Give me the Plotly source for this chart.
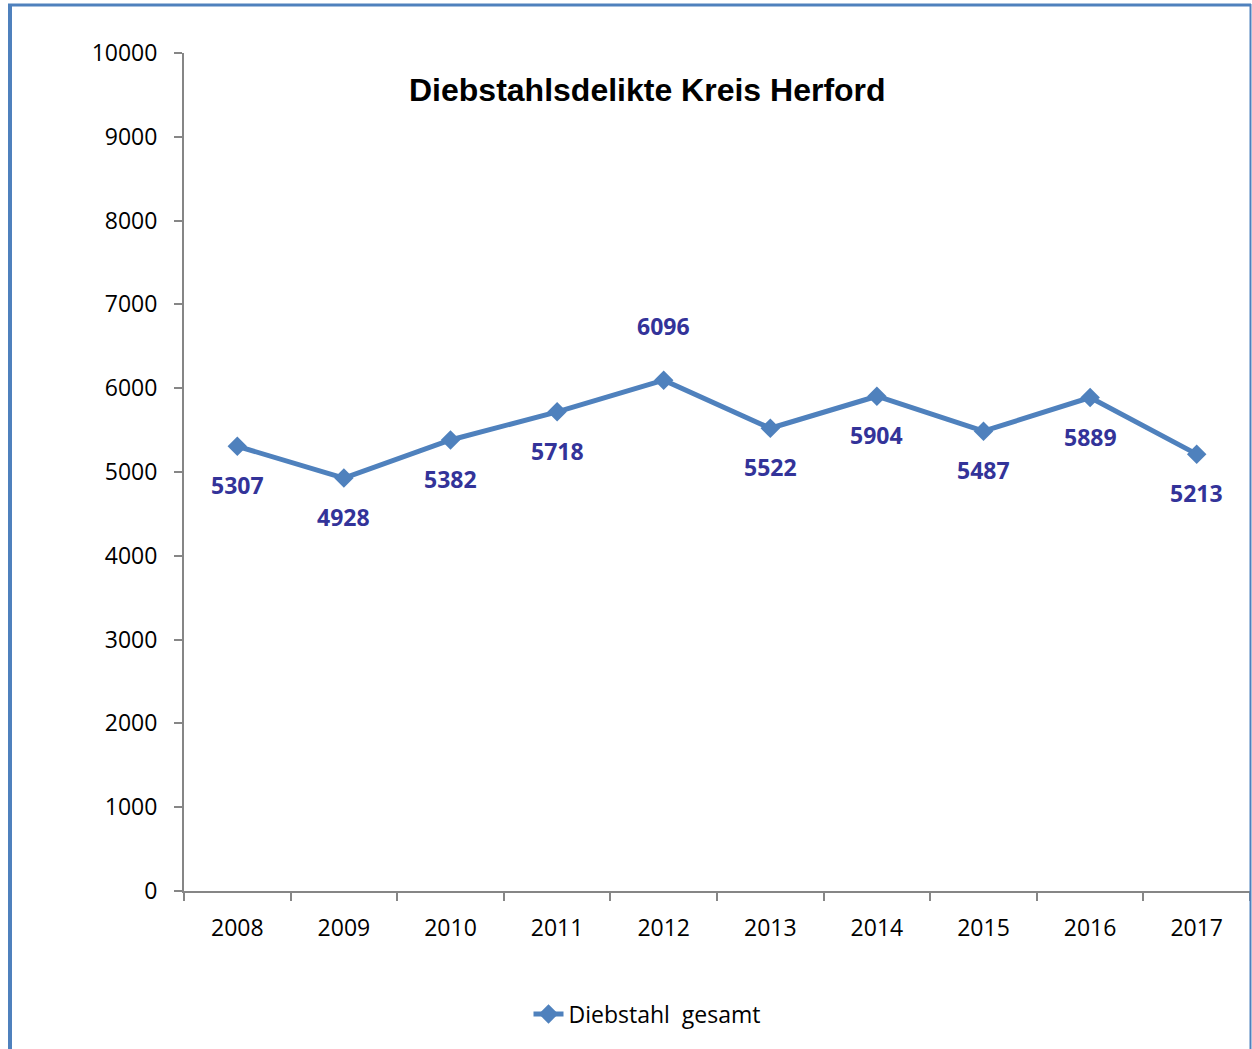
import plotly.graph_objects as go

years = ["2008", "2009", "2010", "2011", "2012", "2013", "2014", "2015", "2016", "2017"]
values = [5307, 4928, 5382, 5718, 6096, 5522, 5904, 5487, 5889, 5213]
label_above = [False, False, False, False, True, False, False, False, False, False]
series_name = "Diebstahl  gesamt"
title_text = "Diebstahlsdelikte Kreis Herford"

W, H = 1252, 1049
L, R, T, B = 184, 1250, 53, 891
pw, ph = R - L, B - T

def px_x(px):
    return (px - L) / pw

def px_y(py):
    return (B - py) / ph

line_color = "#4F81BD"
label_color = "#333399"
axis_color = "#868686"

fig = go.Figure()
fig.add_trace(go.Scatter(
    x=years, y=values, mode="lines+markers", name=series_name,
    line=dict(color=line_color, width=5),
    marker=dict(symbol="diamond", size=15, color=line_color),
))

for i, (v, up) in enumerate(zip(values, label_above)):
    fig.add_annotation(
        x=i, y=v, xref="x", yref="y", text="<b>" + str(v) + "</b>", showarrow=False,
        yshift=54 if up else -39,
        font=dict(family="Open Sans", size=23, color=label_color),
    )

fig.add_annotation(
    xref="paper", yref="paper", x=px_x(647), y=px_y(90),
    text="<b>" + title_text + "</b>", showarrow=False,
    font=dict(family="Liberation Sans", size=32, color="black"),
    xanchor="center", yanchor="middle",
)

# outer border
fig.add_shape(type="line", xref="paper", yref="paper",
              x0=px_x(10), x1=px_x(10), y0=px_y(4), y1=px_y(1060),
              line=dict(color=line_color, width=4))
fig.add_shape(type="line", xref="paper", yref="paper",
              x0=px_x(8), x1=px_x(1251), y0=px_y(5), y1=px_y(5),
              line=dict(color=line_color, width=3))
fig.add_shape(type="line", xref="paper", yref="paper",
              x0=px_x(1250.5), x1=px_x(1250.5), y0=px_y(4), y1=px_y(1060),
              line=dict(color=line_color, width=2))

fig.update_layout(
    width=W, height=H,
    margin=dict(l=L, r=W - R, t=T, b=H - B),
    paper_bgcolor="white", plot_bgcolor="white",
    showlegend=True,
    legend=dict(orientation="h", x=px_x(647), y=px_y(1014),
                xanchor="center", yanchor="middle",
                font=dict(family="Open Sans", size=23, color="black"),
                bgcolor="rgba(0,0,0,0)"),
    font=dict(family="Open Sans", color="black"),
)
fig.update_xaxes(
    type="category", range=[-0.5, 9.5], tickson="boundaries",
    showline=True, linecolor=axis_color, linewidth=2,
    ticks="outside", ticklen=8, tickcolor=axis_color, tickwidth=2,
    showgrid=False, zeroline=False,
    tickfont=dict(family="Open Sans", size=23, color="black"),
    ticklabelstandoff=15,
)
fig.update_yaxes(
    range=[0, 10000], dtick=1000, tickformat="d",
    showline=True, linecolor=axis_color, linewidth=2,
    ticks="outside", ticklen=8, tickcolor=axis_color, tickwidth=2,
    showgrid=False, zeroline=False,
    tickfont=dict(family="Open Sans", size=23, color="black"),
    ticklabelstandoff=12,
)

fig.write_html("out.html")
